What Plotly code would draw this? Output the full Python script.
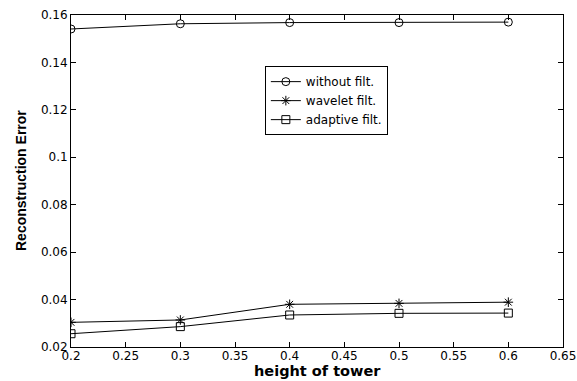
import plotly.graph_objects as go

heights = [0.2, 0.3, 0.4, 0.5, 0.6]
without_filt = [0.1541, 0.1563, 0.1568, 0.1568, 0.1570]
wavelet_filt = [0.0304, 0.0314, 0.0380, 0.0384, 0.0389]
adaptive_filt = [0.0256, 0.0286, 0.0335, 0.0342, 0.0343]
x_ticks = [0.2, 0.25, 0.3, 0.35, 0.4, 0.45, 0.5, 0.55, 0.6, 0.65]
x_tick_labels = ["0.2", "0.25", "0.3", "0.35", "0.4", "0.45", "0.5", "0.55", "0.6", "0.65"]
y_ticks = [0.02, 0.04, 0.06, 0.08, 0.1, 0.12, 0.14, 0.16]
y_tick_labels = ["0.02", "0.04", "0.06", "0.08", "0.1", "0.12", "0.14", "0.16"]
x_title = "height of tower"
y_title = "Reconstruction Error"

fig = go.Figure()
series = [
    ("without filt.", without_filt, "circle-open"),
    ("wavelet filt.", wavelet_filt, "asterisk-open"),
    ("adaptive filt.", adaptive_filt, "square-open"),
]
for name, vals, sym in series:
    fig.add_trace(go.Scatter(
        x=heights, y=vals, name=name, mode="lines+markers",
        line=dict(color="black", width=1),
        marker=dict(symbol=sym, size=8, color="black", line=dict(color="black", width=1)),
    ))

axis_common = dict(
    showgrid=False, zeroline=False, showline=True, linecolor="black", linewidth=1,
    mirror="ticks", ticks="inside", ticklen=5, tickcolor="black", automargin=False,
    ticklabeloverflow="allow",
    tickfont=dict(family="DejaVu Sans", size=12, color="black"),
)
fig.update_xaxes(range=[0.2, 0.65], tickvals=x_ticks, ticktext=x_tick_labels,
                 ticklabelstandoff=-2, **axis_common)
fig.update_yaxes(range=[0.02, 0.16], tickvals=y_ticks, ticktext=y_tick_labels, **axis_common)

fig.add_annotation(text="<b>" + x_title + "</b>", xref="paper", yref="paper",
                   x=0.5, y=0, xanchor="center", yanchor="bottom", yshift=-33,
                   showarrow=False, borderpad=0,
                   font=dict(family="DejaVu Sans", size=14.5, color="black"))
fig.add_annotation(text="<b>" + y_title + "</b>", xref="paper", yref="paper",
                   x=0, y=0.5, xanchor="right", yanchor="middle", xshift=-41,
                   textangle=-90, showarrow=False, borderpad=0,
                   font=dict(family="Liberation Sans, Arial", size=14, color="black"))

fig.update_layout(
    width=577, height=381,
    margin=dict(l=71, r=14, t=15, b=34),
    plot_bgcolor="white", paper_bgcolor="white",
    legend=dict(x=0.394, y=0.846, xanchor="left", yanchor="top",
                bgcolor="white", bordercolor="black", borderwidth=1,
                font=dict(family="DejaVu Sans", size=12, color="black"),
                tracegroupgap=0, itemwidth=30),
    showlegend=True,
)
fig.write_html("out.html")
